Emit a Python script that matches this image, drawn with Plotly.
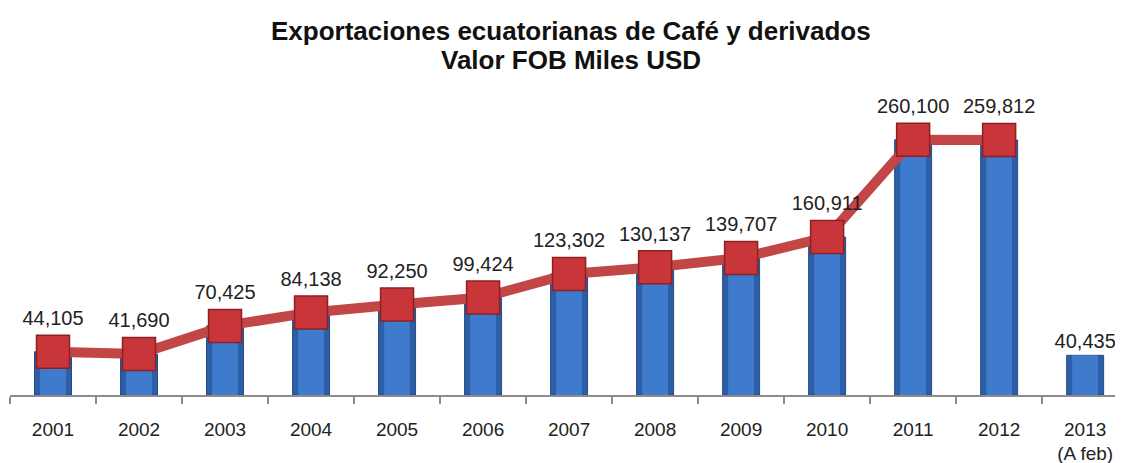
import plotly.graph_objects as go

years = ["2001", "2002", "2003", "2004", "2005", "2006", "2007",
         "2008", "2009", "2010", "2011", "2012", "2013"]
tick_text = ["2001", "2002", "2003", "2004", "2005", "2006", "2007",
             "2008", "2009", "2010", "2011", "2012", "2013<br>(A feb)"]
values = [44105, 41690, 70425, 84138, 92250, 99424, 123302,
          130137, 139707, 160911, 260100, 259812, 40435]
# line covers full years only (2001-2012)
line_years = years[:12]
line_values = values[:12]

title_line1 = "Exportaciones ecuatorianas de Café y derivados"
title_line2 = "Valor FOB Miles USD"

def fmt(v):
    return f"{v:,}"

FONT = "Liberation Sans, Arial"

fig = go.Figure()

# outer (darker) bar
fig.add_trace(go.Bar(
    x=years, y=values, width=0.43,
    marker=dict(color="#2d5fa6", line=dict(color="#244d88", width=1)),
    hoverinfo="skip", showlegend=False,
))
# inner (lighter) bar for a shaded look
fig.add_trace(go.Bar(
    x=years, y=values, width=0.30,
    marker=dict(color="#3f7bcc", line=dict(width=0)),
    text=["" for _ in years[:-1]] + [fmt(values[-1])],
    textposition="outside", cliponaxis=False, constraintext="none",
    textfont=dict(family=FONT, size=20, color="#222222"),
    hoverinfo="skip", showlegend=False,
))

# line with square markers
fig.add_trace(go.Scatter(
    x=line_years, y=line_values, mode="lines+markers+text",
    line=dict(color="#c24646", width=10),
    marker=dict(symbol="square", size=33, color="#c8363a",
                line=dict(color="#8e1f22", width=1.5)),
    text=[fmt(v) for v in line_values],
    textposition="top center", cliponaxis=False,
    textfont=dict(family=FONT, size=20, color="#222222"),
    showlegend=False,
))

fig.update_layout(
    width=1123, height=463,
    margin=dict(l=2, r=8, t=72, b=76),
    paper_bgcolor="white", plot_bgcolor="white",
    barmode="overlay",
    font=dict(family=FONT),
    annotations=[
        dict(text="<b>" + title_line1 + "</b>", xref="paper", yref="paper",
             x=0.504, y=1.1556, xanchor="center", yanchor="middle",
             showarrow=False, font=dict(family=FONT, size=26, color="#111111")),
        dict(text="<b>" + title_line2 + "</b>", xref="paper", yref="paper",
             x=0.504, y=1.0635, xanchor="center", yanchor="middle",
             showarrow=False, font=dict(family=FONT, size=26, color="#111111")),
    ],
)

fig.update_xaxes(
    type="category", categoryorder="array", categoryarray=years,
    tickmode="array", tickvals=years, ticktext=tick_text,
    range=[-0.5, 12.44],
    showline=True, linecolor="#8c8c8c", linewidth=1.5,
    ticks="outside", tickson="boundaries", ticklen=7, tickcolor="#8c8c8c",
    tickwidth=1.5, ticklabelstandoff=16,
    tickfont=dict(family=FONT, size=19, color="#222222"),
    showgrid=False, zeroline=False,
)
fig.update_yaxes(visible=False, range=[0, 321000], showgrid=False, zeroline=False)

fig.write_html("out.html")
